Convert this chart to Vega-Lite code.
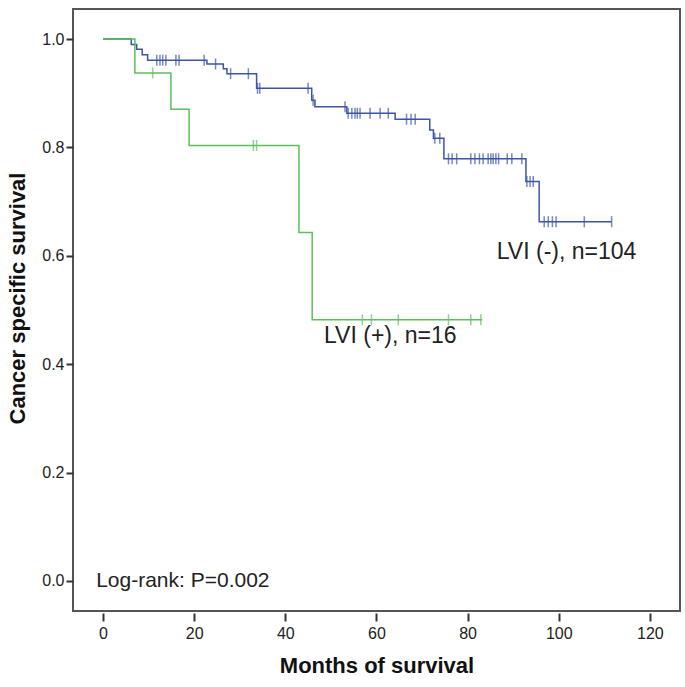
{
  "$schema": "https://vega.github.io/schema/vega-lite/v6.json",
  "width": 607,
  "height": 602,
  "autosize": "none",
  "padding": {"left": 73, "top": 9, "right": 5, "bottom": 76},
  "background": "white",
  "config": {
    "view": {"stroke": "#555555", "strokeWidth": 2},
    "font": "Liberation Sans"
  },
  "datasets": {
    "steps": [
      {"g": "neg", "t": 0, "s": 1},
      {"g": "neg", "t": 6.2, "s": 0.990},
      {"g": "neg", "t": 7.4, "s": 0.981},
      {"g": "neg", "t": 8.6, "s": 0.971},
      {"g": "neg", "t": 9.8, "s": 0.961},
      {"g": "neg", "t": 22.8, "s": 0.954},
      {"g": "neg", "t": 26.4, "s": 0.945},
      {"g": "neg", "t": 27.2, "s": 0.936},
      {"g": "neg", "t": 33.7, "s": 0.909},
      {"g": "neg", "t": 45.8, "s": 0.887},
      {"g": "neg", "t": 46.5, "s": 0.875},
      {"g": "neg", "t": 53.5, "s": 0.863},
      {"g": "neg", "t": 64.1, "s": 0.852},
      {"g": "neg", "t": 71.7, "s": 0.832},
      {"g": "neg", "t": 72.5, "s": 0.817},
      {"g": "neg", "t": 74.8, "s": 0.779},
      {"g": "neg", "t": 92.8, "s": 0.737},
      {"g": "neg", "t": 95.7, "s": 0.663},
      {"g": "neg", "t": 111.6, "s": 0.663},
      {"g": "pos", "t": 0, "s": 1},
      {"g": "pos", "t": 7.0, "s": 0.9375},
      {"g": "pos", "t": 14.9, "s": 0.8705},
      {"g": "pos", "t": 18.9, "s": 0.8036},
      {"g": "pos", "t": 43.0, "s": 0.643},
      {"g": "pos", "t": 45.9, "s": 0.482},
      {"g": "pos", "t": 83.2, "s": 0.482}
    ],
    "censors": [
      {"g": "neg", "t": 11.8, "s": 0.961},
      {"g": "neg", "t": 12.5, "s": 0.961},
      {"g": "neg", "t": 13.1, "s": 0.961},
      {"g": "neg", "t": 13.8, "s": 0.961},
      {"g": "neg", "t": 16.0, "s": 0.961},
      {"g": "neg", "t": 16.7, "s": 0.961},
      {"g": "neg", "t": 22.2, "s": 0.961},
      {"g": "neg", "t": 24.7, "s": 0.954},
      {"g": "neg", "t": 28.0, "s": 0.936},
      {"g": "neg", "t": 31.9, "s": 0.936},
      {"g": "neg", "t": 33.9, "s": 0.909},
      {"g": "neg", "t": 34.4, "s": 0.909},
      {"g": "neg", "t": 45.0, "s": 0.909},
      {"g": "neg", "t": 46.1, "s": 0.887},
      {"g": "neg", "t": 53.1, "s": 0.875},
      {"g": "neg", "t": 53.8, "s": 0.863},
      {"g": "neg", "t": 54.6, "s": 0.863},
      {"g": "neg", "t": 55.3, "s": 0.863},
      {"g": "neg", "t": 55.8, "s": 0.863},
      {"g": "neg", "t": 56.4, "s": 0.863},
      {"g": "neg", "t": 58.6, "s": 0.863},
      {"g": "neg", "t": 60.8, "s": 0.863},
      {"g": "neg", "t": 62.6, "s": 0.863},
      {"g": "neg", "t": 66.6, "s": 0.852},
      {"g": "neg", "t": 67.6, "s": 0.852},
      {"g": "neg", "t": 68.5, "s": 0.852},
      {"g": "neg", "t": 72.8, "s": 0.817},
      {"g": "neg", "t": 73.9, "s": 0.817},
      {"g": "neg", "t": 75.8, "s": 0.779},
      {"g": "neg", "t": 76.6, "s": 0.779},
      {"g": "neg", "t": 77.6, "s": 0.779},
      {"g": "neg", "t": 80.7, "s": 0.779},
      {"g": "neg", "t": 81.6, "s": 0.779},
      {"g": "neg", "t": 82.6, "s": 0.779},
      {"g": "neg", "t": 83.4, "s": 0.779},
      {"g": "neg", "t": 84.5, "s": 0.779},
      {"g": "neg", "t": 85.1, "s": 0.779},
      {"g": "neg", "t": 85.6, "s": 0.779},
      {"g": "neg", "t": 86.2, "s": 0.779},
      {"g": "neg", "t": 86.8, "s": 0.779},
      {"g": "neg", "t": 88.7, "s": 0.779},
      {"g": "neg", "t": 89.7, "s": 0.779},
      {"g": "neg", "t": 91.9, "s": 0.779},
      {"g": "neg", "t": 93.0, "s": 0.737},
      {"g": "neg", "t": 93.7, "s": 0.737},
      {"g": "neg", "t": 94.4, "s": 0.737},
      {"g": "neg", "t": 96.8, "s": 0.663},
      {"g": "neg", "t": 97.7, "s": 0.663},
      {"g": "neg", "t": 98.6, "s": 0.663},
      {"g": "neg", "t": 99.4, "s": 0.663},
      {"g": "neg", "t": 105.6, "s": 0.663},
      {"g": "neg", "t": 111.6, "s": 0.663},
      {"g": "pos", "t": 10.9, "s": 0.9375},
      {"g": "pos", "t": 33.0, "s": 0.8036},
      {"g": "pos", "t": 33.7, "s": 0.8036},
      {"g": "pos", "t": 56.9, "s": 0.482},
      {"g": "pos", "t": 58.9, "s": 0.482},
      {"g": "pos", "t": 64.8, "s": 0.482},
      {"g": "pos", "t": 75.8, "s": 0.482},
      {"g": "pos", "t": 80.7, "s": 0.482},
      {"g": "pos", "t": 82.9, "s": 0.482}
    ],
    "labels": [
      {"t": 86.4, "s": 0.607, "text": "LVI (-), n=104", "k": "big"},
      {"t": 48.5, "s": 0.452, "text": "LVI (+), n=16", "k": "big"},
      {"t": -1.5, "s": 0.0, "text": "Log-rank: P=0.002", "k": "small"}
    ]
  },
  "layer": [
    {
      "data": {"name": "steps"},
      "mark": {"type": "line", "interpolate": "step-after", "strokeWidth": 1.5},
      "encoding": {
        "x": {
          "field": "t", "type": "quantitative",
          "scale": {"domain": [-6.58, 126.6], "nice": false, "zero": false},
          "axis": {
            "values": [0, 20, 40, 60, 80, 100, 120],
            "format": "d",
            "title": "Months of survival",
            "titleFontSize": 22,
            "titleFontWeight": "bold",
            "titleColor": "#111111",
            "titlePadding": 14,
            "labelFontSize": 16,
            "labelColor": "#222222",
            "labelPadding": 4,
            "domain": false,
            "grid": false,
            "offset": 2,
            "tickSize": 8,
            "tickWidth": 2,
            "tickColor": "#333333"
          }
        },
        "y": {
          "field": "s", "type": "quantitative",
          "scale": {"domain": [-0.0554, 1.0554], "nice": false, "zero": false},
          "axis": {
            "values": [0, 0.2, 0.4, 0.6, 0.8, 1.0],
            "format": ".1f",
            "title": "Cancer specific survival",
            "titleFontSize": 22,
            "titleFontWeight": "bold",
            "titleColor": "#111111",
            "titleX": -56,
            "titleY": 289,
            "titleBaseline": "middle",
            "labelFontSize": 16,
            "labelColor": "#222222",
            "labelPadding": 2,
            "domain": false,
            "grid": false,
            "tickSize": 7,
            "tickWidth": 2,
            "tickColor": "#333333"
          }
        },
        "color": {
          "field": "g", "type": "nominal",
          "scale": {"domain": ["neg", "pos"], "range": ["#3c55a5", "#5cbf5c"]},
          "legend": null
        }
      }
    },
    {
      "data": {"name": "censors"},
      "mark": {"type": "tick", "orient": "vertical", "size": 11, "thickness": 1.5},
      "encoding": {
        "x": {"field": "t", "type": "quantitative"},
        "y": {"field": "s", "type": "quantitative"},
        "color": {"field": "g", "type": "nominal", "legend": null}
      }
    },
    {
      "data": {"name": "labels"},
      "mark": {"type": "text", "align": "left", "baseline": "middle", "color": "#222222"},
      "encoding": {
        "x": {"field": "t", "type": "quantitative"},
        "y": {"field": "s", "type": "quantitative"},
        "text": {"field": "text"},
        "size": {
          "field": "k", "type": "nominal",
          "scale": {"domain": ["big", "small"], "range": [23, 21]},
          "legend": null
        }
      }
    }
  ]
}
